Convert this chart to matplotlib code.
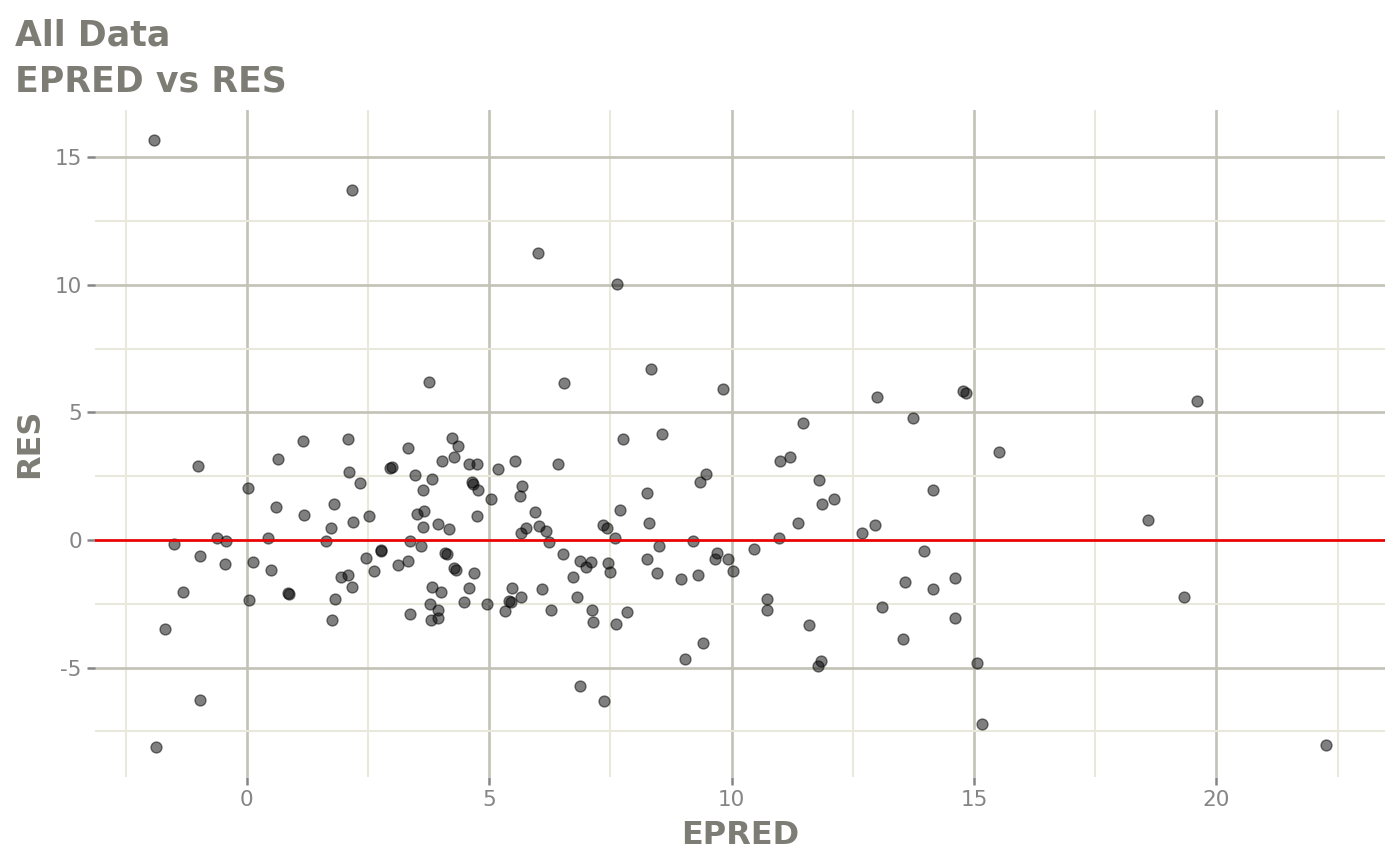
import numpy as np
import matplotlib
matplotlib.use("Agg")
import matplotlib.pyplot as plt
from matplotlib.ticker import MultipleLocator

# values
epred = [-1.92, 2.18, 6.01, 7.64, 3.75, 6.55, 8.34, 9.82, 13.00, 14.77,
         14.83, 19.60, 13.74, 11.47, 15.51, 18.60, 19.34, 22.27, 15.16, 15.06,
         -1.87, -1.69, -0.97, 6.88, 7.37, 9.04, 9.41, 11.78, 11.84, 13.53,
         11.60, -1.01, 1.16, 2.09, 0.64, 0.02, 0.60, 1.18, 1.81, 2.11,
         2.33, 2.20, 2.52, 1.74, 3.32, 2.95, 3.00, 3.47, 3.83, 3.63,
         4.24, 4.35, 4.27, 4.03, 4.59, 4.76, 5.19, 4.65, 4.67, 4.77,
         5.03, 3.52, 3.65, 4.76, 3.63, 3.95, 4.17, -1.50, -0.62, -0.42,
         0.43, 1.63, 3.37, 3.60, -0.96, -0.45, 0.12, 0.51, 2.76, 2.78,
         2.46, 2.63, 3.12, 3.32, 4.10, 4.13, 4.27, 4.32, 4.69, 1.95,
         2.09, 2.18, -1.32, 0.85, 0.87, 0.04, 1.83, 1.76, 3.82, 4.01,
         4.58, 4.49, 4.95, 3.78, 3.94, 3.80, 3.94, 3.37, 5.32, 5.54,
         6.43, 5.67, 5.64, 5.95, 6.03, 6.17, 5.76, 5.65, 6.24, 6.52,
         6.87, 6.99, 7.11, 6.73, 7.46, 7.49, 5.47, 6.10, 5.40, 5.45,
         5.66, 6.28, 6.82, 7.12, 7.14, 7.62, 7.85, 7.77, 8.56, 7.70,
         7.35, 7.44, 7.60, 8.26, 8.30, 8.51, 8.25, 8.47, 8.96, 9.31,
         9.21, 9.35, 9.47, 9.70, 9.66, 9.93, 10.03, 10.46, 10.98, 11.01,
         11.20, 11.38, 11.80, 11.86, 12.11, 12.69, 12.96, 10.74, 10.73, 13.11,
         14.16, 13.98, 13.57, 14.16, 14.60, 14.60]
res = [15.66, 13.70, 11.23, 10.02, 6.18, 6.14, 6.69, 5.91, 5.60, 5.83,
       5.75, 5.44, 4.77, 4.58, 3.44, 0.78, -2.23, -8.02, -7.20, -4.81,
       -8.10, -3.48, -6.26, -5.71, -6.30, -4.66, -4.03, -4.93, -4.74, -3.87,
       -3.33, 2.91, 3.87, 3.95, 3.17, 2.03, 1.29, 0.97, 1.40, 2.66,
       2.24, 0.69, 0.95, 0.47, 3.60, 2.81, 2.87, 2.53, 2.37, 1.97,
       4.00, 3.69, 3.27, 3.08, 2.99, 2.99, 2.78, 2.28, 2.19, 1.94,
       1.60, 1.00, 1.13, 0.93, 0.50, 0.61, 0.44, -0.14, 0.08, -0.03,
       0.08, -0.06, -0.03, -0.23, -0.61, -0.94, -0.85, -1.17, -0.41, -0.44,
       -0.72, -1.21, -1.00, -0.81, -0.50, -0.55, -1.10, -1.17, -1.31, -1.46,
       -1.36, -1.83, -2.05, -2.07, -2.13, -2.36, -2.30, -3.13, -1.85, -2.04,
       -1.87, -2.43, -2.52, -2.50, -2.73, -3.14, -3.05, -2.92, -2.78, 3.08,
       2.97, 2.11, 1.71, 1.10, 0.56, 0.36, 0.48, 0.26, -0.09, -0.56,
       -0.81, -1.06, -0.85, -1.45, -0.89, -1.25, -1.89, -1.94, -2.38, -2.45,
       -2.23, -2.74, -2.22, -2.73, -3.22, -3.31, -2.82, 3.95, 4.17, 1.16,
       0.57, 0.48, 0.08, 1.85, 0.67, -0.22, -0.73, -1.28, -1.53, -1.36,
       -0.06, 2.27, 2.57, -0.52, -0.76, -0.73, -1.23, -0.34, 0.07, 3.09,
       3.27, 0.68, 2.34, 1.41, 1.60, 0.27, 0.57, -2.32, -2.74, -2.62,
       1.97, -0.43, -1.66, -1.93, -1.49, -3.07]

title_lines = ["All Data", "EPRED vs RES"]
x_name = "EPRED"
y_name = "RES"

text_col = "#7d7d75"
tick_col = "#858585"

fig = plt.figure(figsize=(14, 8.65), dpi=100)
ax = fig.add_axes([95 / 1400, 1 - 777 / 865, 1290 / 1400, 667 / 865])

ax.scatter(epred, res, s=62, c="black", alpha=0.5, edgecolors="black",
           linewidths=1.0, zorder=3)
ax.axhline(0, color="#ee0000", lw=1.9, zorder=4)

x = np.array(epred)
y = np.array(res)
xr = x.max() - x.min()
yr = y.max() - y.min()
ax.set_xlim(x.min() - 0.05 * xr, x.max() + 0.05 * xr)
ax.set_ylim(y.min() - 0.05 * yr, y.max() + 0.05 * yr)

ax.xaxis.set_major_locator(MultipleLocator(5))
ax.yaxis.set_major_locator(MultipleLocator(5))
ax.xaxis.set_minor_locator(MultipleLocator(2.5))
ax.yaxis.set_minor_locator(MultipleLocator(2.5))
ax.grid(which="major", color="#c2c2b6", lw=1.9, zorder=1)
ax.grid(which="minor", color="#e8e8dc", lw=1.5, zorder=0)
ax.set_axisbelow(True)

for s in ax.spines.values():
    s.set_visible(False)

ax.tick_params(which="major", length=5.5, width=1.8, color=tick_col,
               labelcolor=tick_col, labelsize=15.5, pad=4)
ax.tick_params(which="minor", length=0)
ax.set_yticks([-5, 0, 5, 10, 15])
ax.set_yticklabels(["-5", "0", "5", "10", "15"])

fig.text(15 / 1400, 1 - 45 / 865, title_lines[0], fontsize=25,
         fontweight="bold", color=text_col, va="baseline", ha="left")
fig.text(15 / 1400, 1 - 92 / 865, title_lines[1], fontsize=25,
         fontweight="bold", color=text_col, va="baseline", ha="left")
fig.text(740 / 1400, 1 - 835 / 865, x_name, fontsize=23, fontweight="bold",
         color=text_col, ha="center", va="center")
fig.text(30 / 1400, 1 - 443 / 865, y_name, fontsize=23, fontweight="bold",
         color=text_col, ha="center", va="center", rotation=90)

fig.savefig("out.png", dpi=100, facecolor="white")
